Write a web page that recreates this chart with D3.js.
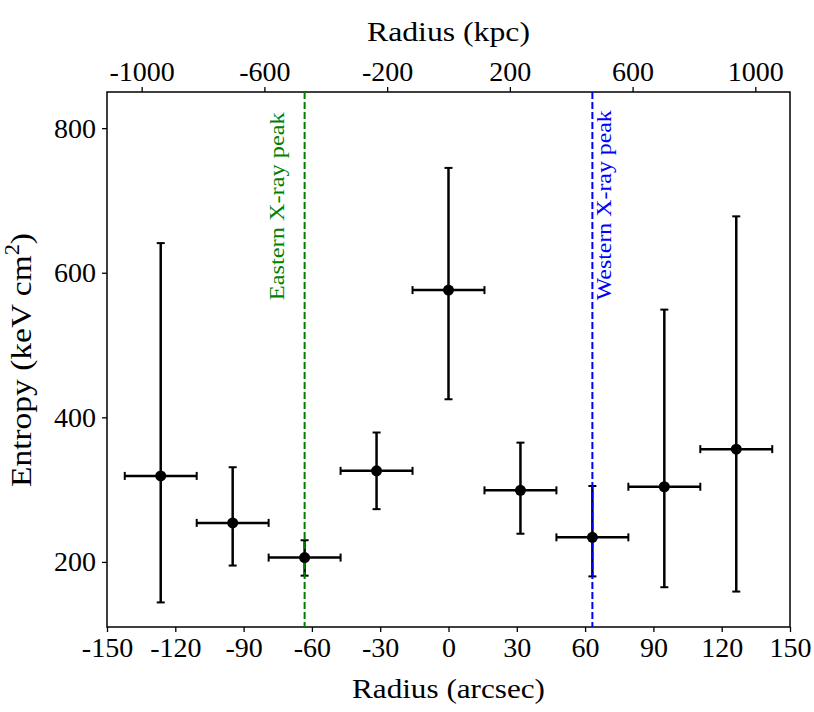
<!DOCTYPE html>
<html>
<head>
<meta charset="utf-8">
<script src="https://cdn.jsdelivr.net/npm/d3@7"></script>
<style>
  body { margin: 0; background: #fff; }
  svg text { font-family: 'Liberation Serif', 'Times New Roman', Times, serif; }
</style>
</head>
<body>
<svg id="chart"></svg>
<script>
// data
const radius = [-126.4, -94.8, -63.2, -31.6, 0, 31.6, 63.2, 94.8, 126.4];   // arcsec
const radiusErr = [15.8, 15.8, 15.8, 15.8, 15.8, 15.8, 15.8, 15.8, 15.8];
const entropy = [319, 254, 206, 326, 576, 299, 234, 304, 356];              // keV cm^2
const errUp = [322, 77, 24, 53, 169, 66, 71, 245, 322];
const errDown = [175, 59, 25, 53, 151, 60, 54, 139, 197];

const xTicks = [-150, -120, -90, -60, -30, 0, 30, 60, 90, 120, 150];
const yTicks = [200, 400, 600, 800];
const kpcTicks = [-1000, -600, -200, 200, 600, 1000];
const kpcPerArcsec = 7.42;

const peaks = [
  { name: 'Eastern X-ray peak', x: -63.2, color: 'green' },
  { name: 'Western X-ray peak', x: 63.2, color: 'blue' }
];

const svgWidth = 814;
const svgHeight = 712;
const margin = { top: 92, right: 24, bottom: 85, left: 107 };
const width = svgWidth - margin.left - margin.right;
const height = svgHeight - margin.top - margin.bottom;
const serif = "'Liberation Serif', 'Times New Roman', Times, serif";

const svg = d3.select('#chart')
    .attr('width', svgWidth)
    .attr('height', svgHeight);

const g = svg.append('g')
    .attr('transform', `translate(${margin.left},${margin.top})`);

const xScale = d3.scaleLinear().domain([-150, 150]).range([0, width]);
const yScale = d3.scaleLinear().domain([110, 850]).range([height, 0]);
const kpcScale = d3.scaleLinear()
    .domain([-150 * kpcPerArcsec, 150 * kpcPerArcsec])
    .range([0, width]);

const fmt = d => String(d);

// bottom axis
const xAxis = g.append('g')
    .attr('transform', `translate(0,${height})`)
    .call(d3.axisBottom(xScale).tickValues(xTicks).tickFormat(fmt).tickSize(5).tickPadding(5));

// left axis
const yAxis = g.append('g')
    .call(d3.axisLeft(yScale).tickValues(yTicks).tickFormat(fmt).tickSize(5).tickPadding(6));

// top axis in kpc
const topAxis = g.append('g')
    .call(d3.axisTop(kpcScale).tickValues(kpcTicks).tickFormat(fmt).tickSize(5).tickPadding(6));

[xAxis, yAxis, topAxis].forEach(a => {
  a.attr('font-family', serif).attr('font-size', 28);
  a.select('.domain').remove();
  a.selectAll('line').attr('stroke', '#000').attr('stroke-width', 1.3);
  a.selectAll('text').attr('fill', '#000');
});

// frame
g.append('rect')
    .attr('width', width)
    .attr('height', height)
    .attr('fill', 'none')
    .attr('stroke', '#000')
    .attr('stroke-width', 1.5);

// error bars
const cap = 4;
const bars = g.append('g').attr('stroke', '#000').attr('stroke-width', 2.5);

radius.forEach((r, i) => {
  const cx = xScale(r);
  const cy = yScale(entropy[i]);
  const x0 = xScale(r - radiusErr[i]);
  const x1 = xScale(r + radiusErr[i]);
  const y0 = yScale(entropy[i] - errDown[i]);
  const y1 = yScale(entropy[i] + errUp[i]);
  bars.append('line').attr('x1', x0).attr('x2', x1).attr('y1', cy).attr('y2', cy);
  bars.append('line').attr('x1', cx).attr('x2', cx).attr('y1', y0).attr('y2', y1);
  bars.append('line').attr('x1', x0).attr('x2', x0).attr('y1', cy - cap).attr('y2', cy + cap).attr('stroke-width', 2);
  bars.append('line').attr('x1', x1).attr('x2', x1).attr('y1', cy - cap).attr('y2', cy + cap).attr('stroke-width', 2);
  bars.append('line').attr('x1', cx - cap).attr('x2', cx + cap).attr('y1', y0).attr('y2', y0).attr('stroke-width', 2);
  bars.append('line').attr('x1', cx - cap).attr('x2', cx + cap).attr('y1', y1).attr('y2', y1).attr('stroke-width', 2);
});

// peak lines
peaks.forEach((p, i) => {
  g.append('line')
    .attr('x1', xScale(p.x)).attr('x2', xScale(p.x))
    .attr('y1', 0).attr('y2', height)
    .attr('stroke', p.color)
    .attr('stroke-width', 2)
    .attr('stroke-dasharray', '7,3');

  const tx = i === 0 ? xScale(p.x) - 21 : xScale(p.x) + 19;
  g.append('text')
    .attr('transform', `translate(${tx},${yScale(562)}) rotate(-90)`)
    .attr('fill', p.color)
    .attr('font-family', serif)
    .attr('font-size', 21)
    .attr('textLength', i === 0 ? 188 : 190)
    .attr('lengthAdjust', 'spacingAndGlyphs')
    .text(p.name);
});

// markers
g.selectAll('circle.pt')
  .data(radius)
  .join('circle')
    .attr('class', 'pt')
    .attr('cx', d => xScale(d))
    .attr('cy', (d, i) => yScale(entropy[i]))
    .attr('r', 5.5)
    .attr('fill', '#000');

// axis titles
svg.append('text')
    .attr('x', margin.left + width / 2)
    .attr('y', 698)
    .attr('text-anchor', 'middle')
    .attr('font-family', serif)
    .attr('font-size', 28)
    .attr('textLength', 193)
    .attr('lengthAdjust', 'spacingAndGlyphs')
    .text('Radius (arcsec)');

svg.append('text')
    .attr('x', margin.left + width / 2)
    .attr('y', 41)
    .attr('text-anchor', 'middle')
    .attr('font-family', serif)
    .attr('font-size', 28)
    .attr('textLength', 163)
    .attr('lengthAdjust', 'spacingAndGlyphs')
    .text('Radius (kpc)');

const yl = svg.append('text')
    .attr('transform', 'translate(31,360) rotate(-90)')
    .attr('text-anchor', 'middle')
    .attr('font-family', serif)
    .attr('font-size', 30)
    .attr('textLength', 254)
    .attr('lengthAdjust', 'spacingAndGlyphs');
yl.append('tspan').text('Entropy (keV cm');
yl.append('tspan').attr('dy', -12).attr('font-size', 20).text('2');
yl.append('tspan').attr('dy', 12).text(')');
</script>
</body>
</html>
